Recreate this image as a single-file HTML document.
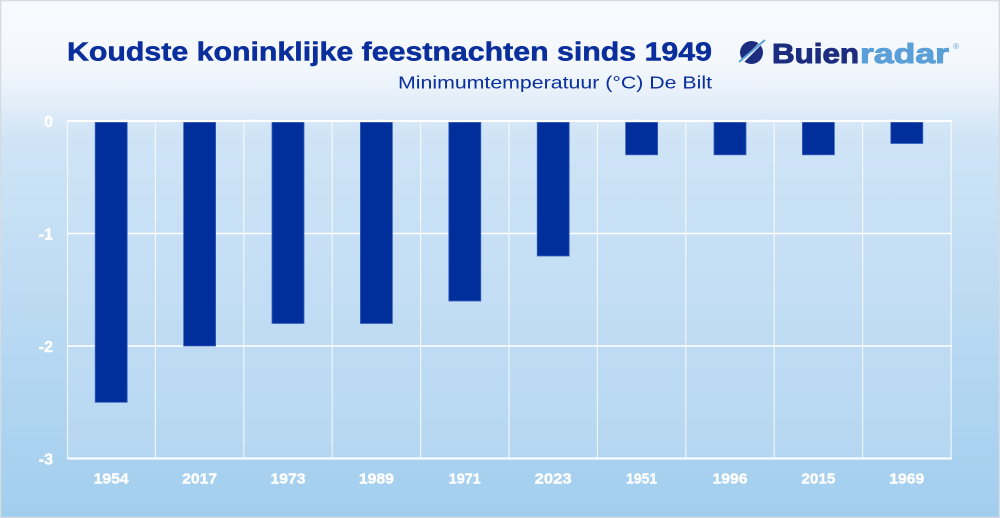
<!DOCTYPE html>
<html><head><meta charset="utf-8"><style>
html,body{margin:0;padding:0;width:1000px;height:518px;overflow:hidden;}
svg{display:block;}
</style></head><body>
<svg width="1000" height="518" viewBox="0 0 1000 518" xmlns="http://www.w3.org/2000/svg">
<defs>
<linearGradient id="bg" x1="0" y1="0" x2="0" y2="1">
<stop offset="0" stop-color="#f7fafd"/>
<stop offset="0.12" stop-color="#f4f8fd"/>
<stop offset="0.2" stop-color="#e3eef9"/>
<stop offset="0.27" stop-color="#cfe4f6"/>
<stop offset="1" stop-color="#a2ceee"/>
</linearGradient>
</defs>
<rect x="0" y="0" width="1000" height="518" fill="url(#bg)"/>
<rect x="0.5" y="0.5" width="999" height="517" fill="none" stroke="#d4dbe2" stroke-width="1.5"/>

<!-- title -->
<text x="67" y="60.5" font-family="Liberation Sans, sans-serif" font-weight="bold" font-size="25.5" fill="#0a2f9c" stroke="#0a2f9c" stroke-width="0.5" textLength="645" lengthAdjust="spacingAndGlyphs">Koudste koninklijke feestnachten sinds 1949</text>
<text x="398" y="88.3" font-family="Liberation Sans, sans-serif" font-size="17.5" fill="#0a2f9c" textLength="314" lengthAdjust="spacingAndGlyphs">Minimumtemperatuur (°C) De Bilt</text>

<!-- logo -->
<circle cx="751.5" cy="52.5" r="11.5" fill="#1c2d80"/>
<line x1="741" y1="63" x2="762" y2="42" stroke="#f4f8fd" stroke-width="3"/>
<line x1="739" y1="62" x2="765" y2="40" stroke="#5fa2da" stroke-width="2"/>
<text x="772" y="63" font-family="Liberation Sans, sans-serif" font-weight="bold" font-size="28" fill="#1c2d80" stroke="#1c2d80" stroke-width="1" textLength="87" lengthAdjust="spacingAndGlyphs">Buien</text>
<text x="860" y="63" font-family="Liberation Sans, sans-serif" font-weight="bold" font-size="28" fill="#5b9fd8" stroke="#5b9fd8" stroke-width="1" textLength="89" lengthAdjust="spacingAndGlyphs">radar</text>
<text x="953" y="49" font-family="Liberation Sans, sans-serif" font-size="8" fill="#5b9fd8">®</text>

<!-- plot area -->
<rect x="67" y="121" width="884" height="337.5" fill="#cfe3f5" opacity="0.35"/>
<g stroke="#ffffff" stroke-opacity="0.75" stroke-width="1.2">
<line x1="67.5" y1="121" x2="67.5" y2="459"/>
<line x1="155.4" y1="121" x2="155.4" y2="459"/>
<line x1="243.8" y1="121" x2="243.8" y2="459"/>
<line x1="332.2" y1="121" x2="332.2" y2="459"/>
<line x1="420.6" y1="121" x2="420.6" y2="459"/>
<line x1="509" y1="121" x2="509" y2="459"/>
<line x1="597.4" y1="121" x2="597.4" y2="459"/>
<line x1="685.8" y1="121" x2="685.8" y2="459"/>
<line x1="774.2" y1="121" x2="774.2" y2="459"/>
<line x1="862.6" y1="121" x2="862.6" y2="459"/>
<line x1="951.2" y1="121" x2="951.2" y2="459"/>
</g>
<g stroke="#ffffff" stroke-width="1.6">
<line x1="67" y1="233.5" x2="952" y2="233.5"/>
<line x1="67" y1="346" x2="952" y2="346"/>
</g>
<line x1="67" y1="458.5" x2="952" y2="458.5" stroke="#ffffff" stroke-width="2"/>

<!-- bars -->
<g fill="#002e9b" stroke="#3a62c0" stroke-width="0.8">
<rect x="95.2" y="122" width="32" height="280.3"/>
<rect x="183.6" y="122" width="32" height="224"/>
<rect x="272" y="122" width="32" height="201.5"/>
<rect x="360.4" y="122" width="32" height="201.5"/>
<rect x="448.8" y="122" width="32" height="179"/>
<rect x="537.2" y="122" width="32" height="134"/>
<rect x="625.6" y="122" width="32" height="32.8"/>
<rect x="714" y="122" width="32" height="32.8"/>
<rect x="802.4" y="122" width="32" height="32.8"/>
<rect x="890.8" y="122" width="32" height="21.5"/>
</g>
<line x1="67" y1="121" x2="952" y2="121" stroke="#ffffff" stroke-width="2.2"/>

<!-- y labels -->
<g font-family="Liberation Sans, sans-serif" font-weight="bold" font-size="16" fill="#ffffff" stroke="#ffffff" stroke-width="0.4" text-anchor="end">
<text x="53" y="127">0</text>
<text x="53" y="239.5">-1</text>
<text x="53" y="352">-2</text>
<text x="53" y="464.5">-3</text>
</g>
<!-- x labels -->
<g font-family="Liberation Sans, sans-serif" font-weight="bold" font-size="15" fill="#ffffff" stroke="#ffffff" stroke-width="0.4" text-anchor="middle">
<text x="111.2" y="483.5" textLength="35" lengthAdjust="spacingAndGlyphs">1954</text>
<text x="199.6" y="483.5" textLength="35" lengthAdjust="spacingAndGlyphs">2017</text>
<text x="288" y="483.5" textLength="35" lengthAdjust="spacingAndGlyphs">1973</text>
<text x="376.4" y="483.5" textLength="35" lengthAdjust="spacingAndGlyphs">1989</text>
<text x="464.8" y="483.5" textLength="32" lengthAdjust="spacingAndGlyphs">1971</text>
<text x="553.2" y="483.5" textLength="37" lengthAdjust="spacingAndGlyphs">2023</text>
<text x="641.6" y="483.5" textLength="31" lengthAdjust="spacingAndGlyphs">1951</text>
<text x="730" y="483.5" textLength="35" lengthAdjust="spacingAndGlyphs">1996</text>
<text x="818.4" y="483.5" textLength="34" lengthAdjust="spacingAndGlyphs">2015</text>
<text x="906.8" y="483.5" textLength="35" lengthAdjust="spacingAndGlyphs">1969</text>
</g>
</svg>
</body></html>
